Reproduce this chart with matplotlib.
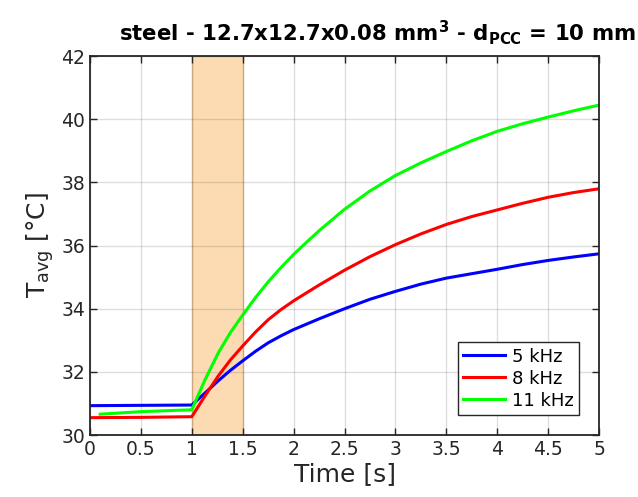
import matplotlib
matplotlib.use("Agg")
import matplotlib.pyplot as plt

# data
t_blue = [0, 0.5, 1.0, 1.13, 1.26, 1.38, 1.5, 1.625, 1.75, 1.875, 2.0, 2.25, 2.5, 2.75, 3.0,
          3.25, 3.5, 3.75, 4.0, 4.25, 4.5, 4.75, 5.0]
T_blue = [30.93, 30.94, 30.95, 31.33, 31.72, 32.05, 32.35, 32.65, 32.92, 33.14, 33.34, 33.68, 34.0,
          34.3, 34.55, 34.78, 34.97, 35.11, 35.25, 35.4, 35.53, 35.64, 35.74]
t_red = [0, 0.5, 1.0, 1.13, 1.26, 1.38, 1.5, 1.625, 1.75, 1.875, 2.0, 2.25, 2.5, 2.75, 3.0,
         3.25, 3.5, 3.75, 4.0, 4.25, 4.5, 4.75, 5.0]
T_red = [30.55, 30.56, 30.58, 31.24, 31.87, 32.38, 32.82, 33.26, 33.65, 33.97, 34.25, 34.75, 35.22,
         35.65, 36.03, 36.37, 36.67, 36.92, 37.13, 37.34, 37.53, 37.68, 37.8]
t_green = [0.1, 0.5, 1.0, 1.13, 1.26, 1.38, 1.5, 1.625, 1.75, 1.875, 2.0, 2.125, 2.25, 2.5, 2.75,
           3.0, 3.25, 3.5, 3.75, 4.0, 4.25, 4.5, 4.75, 5.0]
T_green = [30.66, 30.74, 30.8, 31.75, 32.6, 33.25, 33.8, 34.35, 34.85, 35.3, 35.72, 36.1, 36.47,
           37.15, 37.73, 38.22, 38.62, 38.98, 39.32, 39.62, 39.86, 40.07, 40.27, 40.45]
labels = ["5 kHz", "8 kHz", "11 kHz"]
pulse = [1.0, 1.5]
xticks = [0, 0.5, 1, 1.5, 2, 2.5, 3, 3.5, 4, 4.5, 5]
xticklabels = ["0", "0.5", "1", "1.5", "2", "2.5", "3", "3.5", "4", "4.5", "5"]
yticks = [30, 32, 34, 36, 38, 40, 42]

plt.rcParams['mathtext.fontset'] = 'dejavusans'
txt = '#262626'

fig = plt.figure(figsize=(6.38, 4.97), dpi=100)
ax = fig.add_axes([0.141, 0.1247, 0.798, 0.7623])

ax.axvspan(pulse[0], pulse[1], facecolor=(0.98, 0.75, 0.45), alpha=0.55,
           edgecolor=(0.85, 0.6, 0.3), lw=1, zorder=1)
ax.plot(t_blue, T_blue, color=(0, 0, 1), lw=2.2, label=labels[0], zorder=3)
ax.plot(t_red, T_red, color=(1, 0, 0), lw=2.2, label=labels[1], zorder=3)
ax.plot(t_green, T_green, color=(0, 1, 0), lw=2.2, label=labels[2], zorder=3)

ax.set_xlim(0, 5)
ax.set_ylim(30, 42)
ax.set_xticks(xticks)
ax.set_xticklabels(xticklabels)
ax.set_yticks(yticks)
ax.grid(True, color=(0.15, 0.15, 0.15), alpha=0.15, lw=1)
ax.tick_params(direction='in', top=True, right=True, labelsize=13.5, colors=txt, length=5, width=1)
for s in ax.spines.values():
    s.set_color(txt)
    s.set_linewidth(1.3)
    s.set_zorder(5)

ax.set_xlabel('Time [s]', fontsize=18, color=txt, labelpad=2)
ax.set_ylabel(r'T$_{\mathrm{avg}}$ [°C]', fontsize=18, color=txt, labelpad=4)
fig.text(0.592, 0.918, r'steel - 12.7x12.7x0.08 mm$^{\mathbf{3}}$ - d$_{\mathbf{PCC}}$ = 10 mm',
         fontsize=15.3, fontweight='bold', color='black', ha='center', va='baseline')

leg = ax.legend(loc='lower right', fontsize=13, fancybox=False, framealpha=1,
                edgecolor=txt, borderaxespad=1.1, handlelength=2.3,
                handletextpad=0.4, labelspacing=0.22, borderpad=0.3)
leg.get_frame().set_linewidth(1)

fig.savefig('out.png', dpi=100)
